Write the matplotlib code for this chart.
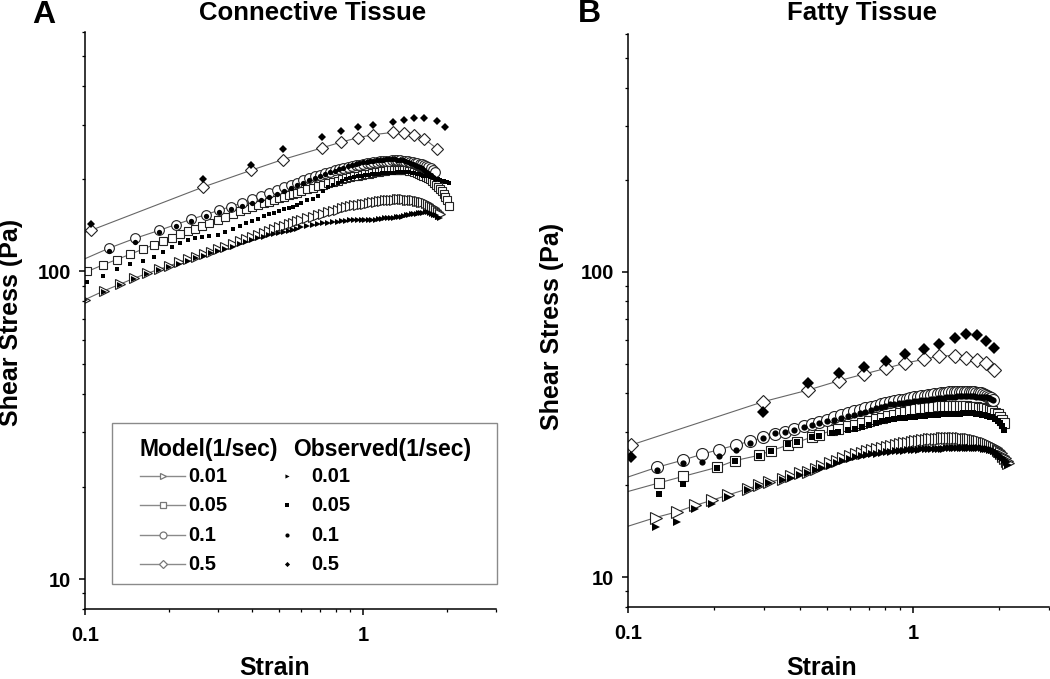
import numpy as np
import matplotlib
matplotlib.use("Agg")
import matplotlib.pyplot as plt
from matplotlib.ticker import FixedLocator, FixedFormatter, LogLocator, NullFormatter
from matplotlib.patches import Rectangle

plt.rcParams['font.family'] = ['Liberation Sans', 'DejaVu Sans']
plt.rcParams['font.weight'] = 'bold'
plt.rcParams['axes.labelweight'] = 'bold'

rate_labels = ['0.01', '0.05', '0.1', '0.5']

# ---------------- Panel A: connective tissue ----------------
strain_A_001 = [0.100, 0.117, 0.134, 0.150, 0.167, 0.184, 0.200, 0.217, 0.234, 0.250, 0.267, 0.284, 0.300,
                0.32, 0.34, 0.36, 0.38, 0.40, 0.42, 0.44, 0.46, 0.48, 0.50, 0.52, 0.54, 0.56, 0.58, 0.60,
                0.63, 0.66, 0.69, 0.72, 0.75, 0.78, 0.81, 0.84, 0.87, 0.90,
                0.93, 0.96, 0.99, 1.02, 1.05, 1.08, 1.11, 1.14, 1.17, 1.20,
                1.23, 1.26, 1.29, 1.32, 1.35, 1.38, 1.41, 1.44, 1.47, 1.50,
                1.53, 1.56, 1.59, 1.62, 1.65, 1.68, 1.71, 1.74, 1.77, 1.80,
                1.83, 1.86, 1.89]
model_A_001 = [81, 86.5, 91, 95, 98.5, 101.5, 104, 107, 109.5, 111.5, 114, 116, 118,
               120.5, 122.9, 125.2, 127.4, 129.5, 131.6, 133.6, 135.5, 137.4, 139.2, 141, 142.5, 144, 145.4, 146.8,
               148.8, 150.7, 152.6, 154.2, 155.8, 157.3, 158.8, 160.2, 161.7, 163,
               163.8, 164.6, 165.4, 166.2, 166.9, 167.7, 168.4, 169.1, 169.8, 170.3,
               170.7, 171, 171.2, 171.4, 171.5, 171.5, 171.4, 171, 170.8, 170.5,
               170.1, 169.6, 169, 168.5, 167.8, 166.5, 165, 163.5, 162, 160.5,
               158.5, 156, 153.5]
obs_A_001 = [80.5, 86, 90.5, 94.5, 98, 101, 103.5, 106, 108.5, 110.5, 112.5, 114.5, 116.5,
             118.5, 120.5, 122.5, 124.5, 126.5, 128, 129.5, 131, 132.5, 133.5, 134.5, 135.5, 136.5, 137.5, 139,
             140.5, 141.5, 142.5, 143.5, 144, 144.6, 145, 145.5, 146, 146.4,
             146.5, 146.5, 146.5, 146.5, 146.7, 147, 147.3, 147.8, 148.2, 148.6,
             149, 149.3, 149.6, 149.8, 150, 150.5, 151.2, 152, 152.8, 153.3,
             153.7, 154, 154.3, 154.8, 155.3, 155.8, 155.5, 155, 154, 153,
             152, 150.5, 149]

strain_A_005 = [0.102, 0.116, 0.130, 0.145, 0.162, 0.177, 0.191, 0.205, 0.220, 0.235, 0.249, 0.263,
                0.28, 0.30, 0.32, 0.34, 0.36, 0.38, 0.40, 0.42, 0.44, 0.46, 0.48, 0.50, 0.52, 0.54, 0.56, 0.58, 0.60,
                0.63, 0.66, 0.69, 0.72, 0.75, 0.78, 0.81, 0.84, 0.87, 0.90,
                0.93, 0.96, 0.99, 1.02, 1.05, 1.08, 1.11, 1.14, 1.17, 1.20,
                1.23, 1.26, 1.29, 1.32, 1.35, 1.38, 1.41, 1.44, 1.47, 1.50,
                1.53, 1.56, 1.59, 1.62, 1.65, 1.68, 1.71, 1.74, 1.77, 1.80,
                1.83, 1.86, 1.89, 1.92, 1.95, 1.98, 2.01, 2.04]
model_A_005 = [100, 105, 109.3, 113.6, 118.3, 122.1, 125.4, 128.6, 131.9, 135, 137.8, 140.3,
               143.4, 146.9, 150.3, 153.5, 156.6, 159.6, 161.9, 164.3, 166.5, 168.6, 170.7, 172.8, 174.6, 176.6, 178.5, 180.3, 182.1,
               184.7, 187.2, 189.4, 191.4, 193.4, 195.3, 197.2, 199, 200.7, 202.4,
               203.5, 204.6, 205.7, 206.7, 207.7, 208.7, 209.7, 210.7, 211.6, 212.2,
               212.8, 213.3, 213.7, 214, 214, 214, 213.7, 213.2, 212.5, 211.5,
               210.2, 208.9, 207.5, 206.2, 204.9, 203, 201, 199, 196.5, 194,
               191, 188, 185, 182, 178.5, 175, 170, 163]
obs_A_005 = [92.5, 96.5, 101.5, 105.5, 108.5, 111, 116, 120, 123.5, 126.5, 128, 129,
             130, 131.5, 134, 137.5, 140, 143.5, 146, 148.5, 151.5, 153.5, 155, 157.5, 159.5, 161, 162.5, 164.5, 166.5,
             170, 172, 176, 183, 188, 191.5, 194, 196.5, 199, 201.5,
             202.5, 203.5, 204.5, 205, 205.5, 206.5, 207, 207.5, 208.5, 209,
             209, 209.5, 209.5, 210, 210, 210.5, 210.5, 210.5, 210.3, 209.5,
             208.5, 207.5, 206.5, 205.5, 204.5, 204, 203.5, 203, 202, 201,
             200, 199, 198, 197, 196, 195.5, 195, 194]

strain_A_01 = [0.122, 0.151, 0.185, 0.212, 0.240, 0.272, 0.303, 0.335, 0.367, 0.399,
               0.43, 0.46, 0.49, 0.52, 0.55, 0.58, 0.61, 0.64, 0.67, 0.70,
               0.73, 0.76, 0.79, 0.82, 0.85, 0.88, 0.91, 0.94, 0.97, 1.00,
               1.03, 1.06, 1.09, 1.12, 1.15, 1.18, 1.21, 1.24, 1.27, 1.30,
               1.33, 1.36, 1.39, 1.42, 1.45, 1.48, 1.51, 1.54, 1.57, 1.60,
               1.63, 1.66, 1.69, 1.72, 1.75, 1.78, 1.81]
model_A_01 = [119, 128, 136, 142, 147.5, 153, 158, 162.5, 167, 171.4,
              176, 180, 184, 188, 191.5, 194.5, 197.5, 200.5, 203.5, 206,
              208.5, 211, 213, 215, 216.8, 218.5, 220, 221.3, 222.5, 223.6,
              224.6, 225.5, 226.3, 227, 227.6, 228.1, 228.6, 229, 229.3, 229.5,
              229.6, 229.5, 229.2, 228.8, 228.2, 227.5, 226.7, 225.8, 225, 224,
              222.8, 221.5, 220, 218.5, 216.5, 213.5, 210]
obs_A_01 = [116.5, 125, 134.5, 141, 146, 151, 155.5, 160, 163, 167,
            171, 175, 179, 183, 187, 190.5, 194, 197.5, 201, 204,
            207, 210, 212.5, 215, 217.5, 219.5, 221.5, 223, 224.5, 226,
            227, 228, 229, 230, 230.5, 231, 231.5, 231.5, 231.5, 231.3,
            231, 230.5, 229.5, 228.5, 227, 225.5, 224, 222, 220, 218,
            216, 213.5, 211, 208.5, 206, 203, 200]

strain_A_05 = [0.105, 0.266, 0.395, 0.515, 0.712, 0.833, 0.959, 1.086, 1.28, 1.40, 1.53, 1.66, 1.85, 1.97]
model_A_05 = [136, 188, 213, 231, 252, 263, 272, 278, 283, 282, 278, 270, 250, np.nan]
obs_A_05 = [143, 199, 222, 249, 274, 286, 294, 300, 305, 311, 316, 316, 308, 294]

# model curves start at the left axis edge (strain 0.1)
start_A = [81, 99.5, 110, 134]

# ---------------- Panel B: fatty tissue ----------------
strain_B_001 = [0.125, 0.149, 0.172, 0.198, 0.224, 0.264, 0.289, 0.313, 0.350, 0.374, 0.401, 0.429, 0.458,
                0.48, 0.51, 0.54, 0.57, 0.60, 0.63, 0.66, 0.69, 0.72, 0.75,
                0.78, 0.81, 0.84, 0.87, 0.90, 0.93, 0.96, 0.99, 1.02, 1.05,
                1.08, 1.11, 1.14, 1.17, 1.20, 1.23, 1.26, 1.29, 1.32, 1.35,
                1.38, 1.41, 1.44, 1.47, 1.50, 1.53, 1.56, 1.59, 1.62, 1.65,
                1.68, 1.71, 1.74, 1.77, 1.80, 1.83, 1.86, 1.89, 1.92, 1.95,
                1.98, 2.01, 2.04, 2.07, 2.10, 2.13, 2.16]
model_B_001 = [15.7, 16.4, 17.2, 17.9, 18.6, 19.5, 20.1, 20.5, 21.0, 21.5, 21.9, 22.2, 22.7,
               23.1, 23.6, 24.1, 24.6, 25.0, 25.3, 25.6, 25.9, 26.1, 26.35,
               26.6, 26.8, 27.0, 27.15, 27.3, 27.45, 27.6, 27.75, 27.9, 28.0,
               28.1, 28.2, 28.3, 28.35, 28.4, 28.45, 28.5, 28.5, 28.55, 28.55,
               28.55, 28.55, 28.5, 28.5, 28.45, 28.4, 28.35, 28.3, 28.2, 28.1,
               28.0, 27.9, 27.75, 27.6, 27.45, 27.3, 27.1, 26.9, 26.7, 26.5,
               26.2, 25.9, 25.5, 25.0, 24.5, 24.1, 23.7]
obs_B_001 = [14.6, 15.2, 16.8, 17.4, 18.3, 19.3, 19.9, 20.3, 20.8, 21.2, 21.6, 22.0, 22.4,
             22.8, 23.2, 23.6, 24.0, 24.4, 24.7, 24.9, 25.1, 25.3, 25.4,
             25.55, 25.65, 25.75, 25.85, 25.9, 26.0, 26.05, 26.1, 26.15, 26.2,
             26.25, 26.3, 26.3, 26.35, 26.35, 26.4, 26.4, 26.4, 26.45, 26.45,
             26.5, 26.5, 26.5, 26.55, 26.55, 26.6, 26.6, 26.6, 26.6, 26.55,
             26.5, 26.5, 26.45, 26.4, 26.3, 26.25, 26.2, 26.1, 25.9, 25.7,
             25.4, 25.1, 24.8, 24.5, 24.2, 23.8, 23.4]

strain_B_005 = [0.129, 0.156, 0.205, 0.237, 0.289, 0.318, 0.365, 0.393, 0.443, 0.470, 0.522, 0.546, 0.593, 0.625,
                0.66, 0.70, 0.74, 0.78, 0.82, 0.86, 0.90, 0.94, 0.98, 1.02,
                1.06, 1.10, 1.14, 1.18, 1.22, 1.26, 1.30, 1.34, 1.38, 1.42,
                1.46, 1.50, 1.54, 1.58, 1.62, 1.66, 1.70, 1.74, 1.78, 1.82,
                1.86, 1.90, 1.94, 1.98, 2.02, 2.06, 2.09]
model_B_005 = [20.4, 21.4, 22.9, 24.1, 25.1, 26.0, 27.1, 27.7, 28.8, 29.3, 30.3, 30.7, 31.3, 31.6,
               32.1, 32.5, 32.9, 33.3, 33.7, 34.1, 34.5, 34.9, 35.3, 35.6,
               35.8, 35.95, 36.05, 36.15, 36.25, 36.35, 36.4, 36.45, 36.45, 36.45,
               36.4, 36.4, 36.3, 36.2, 36.1, 36.0, 35.9, 35.8, 35.7, 35.6,
               35.4, 35.0, 34.6, 34.2, 33.6, 32.8, 31.9]
obs_B_005 = [18.7, 20.2, 22.8, 24.0, 24.9, 25.9, 27.4, 27.8, 28.7, 29.0, 29.7, 30.0, 30.4, 30.7,
             31.1, 31.5, 32.1, 32.5, 32.8, 33.0, 33.2, 33.3, 33.5, 33.6,
             33.7, 33.8, 33.9, 34.0, 34.1, 34.15, 34.2, 34.25, 34.3, 34.3,
             34.35, 34.4, 34.4, 34.4, 34.4, 34.3, 34.2, 34.1, 33.9, 33.8,
             33.6, 33.4, 33.0, 32.6, 32.0, 31.2, 30.3]

strain_B_01 = [0.126, 0.156, 0.182, 0.209, 0.239, 0.268, 0.299, 0.328, 0.357, 0.384, 0.414, 0.442, 0.470,
               0.50, 0.53, 0.56, 0.59, 0.62, 0.65, 0.68, 0.71, 0.74, 0.77,
               0.80, 0.83, 0.86, 0.89, 0.92, 0.95, 0.98, 1.01, 1.04, 1.07,
               1.10, 1.13, 1.16, 1.19, 1.22, 1.25, 1.28, 1.31, 1.34, 1.37,
               1.40, 1.43, 1.46, 1.49, 1.52, 1.55, 1.58, 1.61, 1.64, 1.67,
               1.70, 1.73, 1.76, 1.79, 1.82, 1.85, 1.88, 1.91]
model_B_01 = [22.9, 24.2, 25.3, 26.2, 27.1, 27.9, 28.7, 29.4, 29.9, 30.5, 31.3, 31.7, 32.3,
              32.8, 33.4, 34.0, 34.6, 35.0, 35.4, 35.8, 36.1, 36.4, 36.8,
              37.2, 37.5, 37.8, 38.0, 38.2, 38.4, 38.6, 38.8, 39.0, 39.2,
              39.35, 39.5, 39.6, 39.75, 39.9, 40.0, 40.1, 40.2, 40.3, 40.35,
              40.4, 40.45, 40.5, 40.5, 40.5, 40.45, 40.4, 40.35, 40.3, 40.2,
              40.1, 40.0, 39.8, 39.6, 39.3, 39.0, 38.6, 38.0]
obs_B_01 = [22.4, 23.6, 23.9, 24.9, 26.2, 27.6, 28.5, 29.6, 29.9, 30.4, 31.0, 31.5, 32.0,
            32.4, 32.8, 33.3, 33.7, 34.1, 34.5, 34.9, 35.3, 35.8, 36.2,
            36.5, 36.8, 37.0, 37.2, 37.3, 37.5, 37.6, 37.7, 37.9, 38.0,
            38.1, 38.2, 38.3, 38.4, 38.5, 38.6, 38.7, 38.8, 38.9, 39.0,
            39.0, 39.1, 39.1, 39.2, 39.2, 39.2, 39.2, 39.2, 39.1, 39.0,
            39.0, 38.9, 38.9, 38.8, 38.8, 38.7, 38.4, 38.0]

strain_B_05 = [0.1025, 0.299, 0.428, 0.550, 0.675, 0.803, 0.935, 1.091, 1.239, 1.404, 1.530, 1.674, 1.811, 1.928]
model_B_05 = [27.1, 37.6, 41.0, 44.0, 46.3, 48.3, 50.2, 51.7, 53.0, 53.2, 52.4, 51.4, 50.2, 47.7]
obs_B_05 = [24.8, 34.8, 43.2, 46.6, 48.9, 51.2, 53.7, 55.8, 57.9, 60.6, 62.6, 62.1, 59.4, 56.2]

start_B = [14.7, 19.1, 21.3, 27.0]

markers = ['>', 's', 'o', 'D']
line_gray = '#666666'


def draw_panel(ax, strains, models, observed, starts, model_ms, obs_ms):
    # model curves: thin gray line, open markers
    for s, m, st, mk, ms in zip(strains, models, starts, markers, model_ms):
        s = np.array(s, float)
        m = np.array(m, float)
        ax.plot(np.r_[0.1, s], np.r_[st, m], color=line_gray, lw=0.8, zorder=1)
        ax.plot(s, m, ls='none', marker=mk, ms=ms, mfc='white', mec='#222222',
                mew=0.8, zorder=2)
    # observed data: small filled markers on top
    for s, o, mk, ms in zip(strains, observed, markers, obs_ms):
        ax.plot(s, o, ls='none', marker=mk, ms=ms, mfc='black', mec='black',
                mew=0, zorder=3)

    ax.set_xscale('log')
    ax.set_yscale('log')
    ax.set_xlim(0.1, 3)
    ax.set_ylim(8, 600)
    ax.xaxis.set_major_locator(FixedLocator([0.1, 1]))
    ax.xaxis.set_major_formatter(FixedFormatter(['0.1', '1']))
    ax.yaxis.set_major_locator(FixedLocator([10, 100]))
    ax.yaxis.set_major_formatter(FixedFormatter(['10', '100']))
    for axis in (ax.xaxis, ax.yaxis):
        axis.set_minor_locator(LogLocator(base=10, subs=np.arange(2, 10)))
        axis.set_minor_formatter(NullFormatter())
    ax.spines['top'].set_visible(False)
    ax.spines['right'].set_visible(False)
    for sp in ('left', 'bottom'):
        ax.spines[sp].set_linewidth(1.1)
    ax.tick_params(which='major', direction='out', length=4, width=1.1, labelsize=14.5)
    ax.tick_params(which='minor', direction='out', length=2.5, width=0.9)
    ax.tick_params(axis='x', which='major', pad=8)
    ax.tick_params(axis='y', which='major', pad=6)
    ax.set_xlabel('Strain', fontsize=18, va='center')
    ax.set_ylabel('Shear Stress (Pa)', fontsize=18, va='center')


fig = plt.figure(figsize=(10.5, 6.79), dpi=100)
ax1 = fig.add_axes([0.081, 0.103, 0.391, 0.850])
ax2 = fig.add_axes([0.598, 0.106, 0.401, 0.844])

draw_panel(ax1,
           [strain_A_001, strain_A_005, strain_A_01, strain_A_05],
           [model_A_001, model_A_005, model_A_01, model_A_05],
           [obs_A_001, obs_A_005, obs_A_01, obs_A_05],
           start_A, [6.5, 5.5, 7.0, 6.0], [3.8, 3.4, 3.8, 3.6])
draw_panel(ax2,
           [strain_B_001, strain_B_005, strain_B_01, strain_B_05],
           [model_B_001, model_B_005, model_B_01, model_B_05],
           [obs_B_001, obs_B_005, obs_B_01, obs_B_05],
           start_B, [8.0, 7.0, 8.6, 6.8], [5.5, 4.5, 4.5, 6.0])

ax1.xaxis.set_label_coords(0.462, -0.102)
ax1.yaxis.set_label_coords(-0.180, 0.496)
ax2.xaxis.set_label_coords(0.461, -0.106)
ax2.yaxis.set_label_coords(-0.1805, 0.490)

# panel titles and letters
fig.text(0.298, 0.9705, 'Connective Tissue', fontsize=18.5, ha='center', va='baseline')
fig.text(0.8214, 0.9705, 'Fatty Tissue', fontsize=18.5, ha='center', va='baseline')
fig.text(0.0305, 0.966, 'A', fontsize=23, ha='left', va='baseline')
fig.text(0.5505, 0.967, 'B', fontsize=23, ha='left', va='baseline')

# legend drawn inside panel A
tr = ax1.transAxes
ax1.add_patch(Rectangle((0.0657, 0.0433), 0.9367, 0.2791, transform=tr, fill=True,
                        facecolor='white', edgecolor='#8a8a8a', lw=1.0, clip_on=False, zorder=4))
ax1.text(0.1338, 0.2773, 'Model(1/sec)', transform=tr, fontsize=16.5, va='center', zorder=5)
ax1.text(0.506, 0.2773, 'Observed(1/sec)', transform=tr, fontsize=16.5, va='center', zorder=5)
row_y = [0.2305, 0.1802, 0.1282, 0.078]
for yy, mk, lab in zip(row_y, markers, rate_labels):
    ax1.plot([0.1338, 0.2433], [yy, yy], transform=tr, color='#8a8a8a', lw=1.0,
             clip_on=False, zorder=5)
    ax1.plot([0.1898], [yy], transform=tr, ls='none', marker=mk, ms=5 if mk != 'D' else 4,
             mfc='white', mec='#777777', mew=0.9, clip_on=False, zorder=6)
    ax1.text(0.2506, yy, lab, transform=tr, fontsize=14.5, va='center', zorder=5)
    ax1.plot([0.4915], [yy], transform=tr, ls='none', marker=mk, ms=3 if mk != 'D' else 2.6,
             mfc='black', mec='black', mew=0, clip_on=False, zorder=6)
    ax1.text(0.5499, yy, lab, transform=tr, fontsize=14.5, va='center', zorder=5)

fig.savefig('out.png', dpi=100)
